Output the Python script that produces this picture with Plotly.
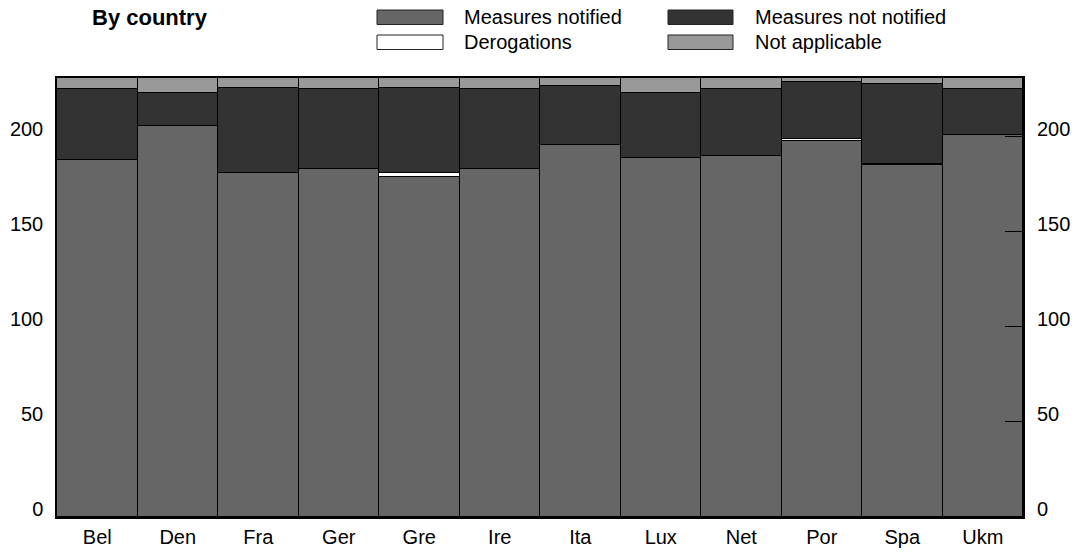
import plotly.graph_objects as go

countries = ["Bel", "Den", "Fra", "Ger", "Gre", "Ire", "Ita", "Lux", "Net", "Por", "Spa", "Ukm"]
measures_notified = [188, 206, 181, 183, 179, 183, 196, 189, 190, 198, 185, 201]
derogations = [0, 0, 0, 0, 2, 0, 0, 0, 0, 1, 1, 0]
measures_not_notified = [37, 17, 45, 42, 45, 42, 31, 34, 35, 30, 42, 24]
not_applicable = [6, 8, 5, 6, 5, 6, 4, 8, 6, 2, 3, 6]
tick_values = [0, 50, 100, 150, 200]

series = [
    ("Measures notified", measures_notified, "#666666"),
    ("Derogations", derogations, "#ffffff"),
    ("Measures not notified", measures_not_notified, "#333333"),
    ("Not applicable", not_applicable, "#999999"),
]

FONT = "Liberation Sans, Arial, sans-serif"
OFF = 8  # default page body margin
W, H = 1080 - OFF, 556 - OFF
# plot area in page pixels: x 57..1023, y 78..517
ML, MR, MT, MB = 57 - OFF, 1080 - 1023, 78 - OFF, 556 - 517
PW, PH = W - ML - MR, H - MT - MB
YMAX = 231


def px(x):
    return (x - OFF - ML) / PW


def py(y):
    return (H - MB - (y - OFF)) / PH


fig = go.Figure()
for name, vals, col in series:
    fig.add_trace(go.Bar(
        x=countries, y=vals, name=name,
        marker=dict(color=col, line=dict(color="#000000", width=1)),
        showlegend=False,
    ))

fig.add_trace(go.Scatter(x=countries, y=[None] * len(countries), yaxis="y2",
                         showlegend=False, hoverinfo="skip"))

shapes = []
annotations = []
legend_pos = [
    (series[0], 377, 443, 10, 24.5, 462, 17.5),
    (series[1], 377, 443, 35, 49.5, 462, 42),
    (series[2], 668, 733, 10, 24.5, 753, 17.5),
    (series[3], 668, 733, 35, 49.5, 753, 42),
]
for (name, _, col), x0, x1, y0, y1, tx, ty in legend_pos:
    shapes.append(dict(type="rect", xref="paper", yref="paper",
                       x0=px(x0), x1=px(x1), y0=py(y1), y1=py(y0),
                       fillcolor=col, line=dict(color="#222222", width=1)))
    annotations.append(dict(xref="paper", yref="paper", x=px(tx), y=py(ty),
                            xanchor="left", yanchor="middle", showarrow=False,
                            text=name, font=dict(family=FONT, size=20, color="#000000")))

annotations.append(dict(xref="paper", yref="paper", x=px(90), y=py(17),
                        xanchor="left", yanchor="middle", showarrow=False,
                        text="<b>By country</b>", font=dict(family=FONT, size=22, color="#000000")))

fig.update_layout(
    width=W, height=H,
    margin=dict(l=ML, r=MR, t=MT, b=MB, pad=0, autoexpand=False),
    barmode="stack", bargap=0,
    plot_bgcolor="#ffffff", paper_bgcolor="#ffffff",
    font=dict(family=FONT, size=20, color="#000000"),
    shapes=shapes, annotations=annotations,
    xaxis=dict(range=[-0.5, len(countries) - 0.5], automargin=False,
               showline=True, linecolor="#000000", linewidth=2, mirror=True,
               ticks="", showgrid=False, ticklabelstandoff=1,
               tickfont=dict(family=FONT, size=20, color="#000000")),
    yaxis=dict(range=[0, YMAX], tickvals=tick_values, showgrid=False, zeroline=False,
               automargin=False,
               showline=True, linecolor="#000000", linewidth=1.5, mirror=True,
               ticks="", ticklabelstandoff=8, ticklabelshift=-8,
               tickfont=dict(family=FONT, size=20, color="#000000")),
    yaxis2=dict(range=[0, YMAX], tickvals=tick_values, overlaying="y", side="right",
                automargin=False,
                showgrid=False, zeroline=False, showline=False,
                ticks="inside", ticklen=18, tickcolor="#000000", tickwidth=1,
                ticklabelstandoff=13, ticklabelshift=-8,
                tickfont=dict(family=FONT, size=20, color="#000000")),
)

fig.write_html("out.html")
